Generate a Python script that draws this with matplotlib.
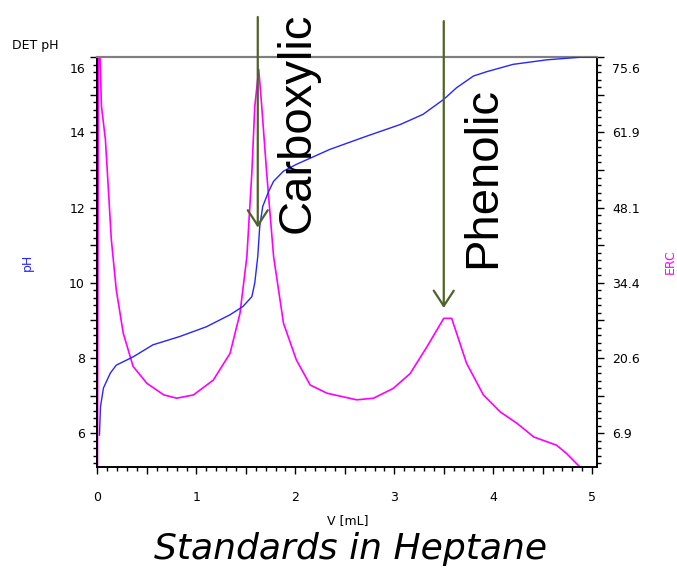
import numpy as np
import matplotlib.pyplot as plt
from matplotlib.ticker import MultipleLocator, FixedLocator, FuncFormatter
import matplotlib.transforms as mtransforms

# pH curve (blue)
v_ph = [0.02, 0.03, 0.06, 0.13, 0.19, 0.36, 0.56, 0.83, 1.10, 1.34, 1.47, 1.56,
        1.59, 1.62, 1.64, 1.67, 1.73, 1.78, 1.88, 2.01, 2.35, 2.72, 3.06, 3.29,
        3.50, 3.63, 3.80, 3.94, 4.20, 4.54, 4.88, 5.05]
ph = [5.95, 6.7, 7.2, 7.6, 7.81, 8.03, 8.35, 8.57, 8.83, 9.15, 9.37, 9.63,
      10.0, 10.7, 11.5, 12.03, 12.43, 12.7, 12.97, 13.15, 13.55, 13.9, 14.21, 14.48,
      14.88, 15.19, 15.5, 15.62, 15.81, 15.93, 16.0, 16.0]

# ERC curve (magenta)
v_erc = [0.0, 0.01, 0.025, 0.04, 0.08, 0.11, 0.14, 0.19, 0.26, 0.36, 0.50, 0.67,
         0.80, 0.97, 1.17, 1.34, 1.44, 1.51, 1.56, 1.59, 1.63, 1.66, 1.71, 1.78,
         1.88, 2.01, 2.15, 2.32, 2.62, 2.79, 2.99, 3.16, 3.33, 3.50, 3.58, 3.73,
         3.90, 4.07, 4.24, 4.41, 4.64, 4.74, 4.91]
erc = [0.5, 76.0, 76.0, 66.7, 60.6, 51.5, 42.3, 33.1, 25.2, 19.1, 16.0, 13.9,
       13.3, 13.9, 16.6, 21.5, 28.8, 39.2, 54.5, 66.7, 73.4, 66.7, 54.5, 39.2,
       27.0, 20.3, 15.7, 14.2, 13.0, 13.3, 15.1, 17.8, 22.7, 27.9, 27.9, 19.7,
       13.9, 10.8, 8.7, 6.2, 4.7, 3.2, 0.1]

x_labels = ['0', '1', '2', '3', '4', '5']
ph_labels = ['6', '8', '10', '12', '14', '16']
erc_labels = ['6.9', '20.6', '34.4', '48.1', '61.9', '75.6']

# peaks marked with arrows: (name, V, arrow tip pH)
peaks = [('Carboxylic', 1.62, 11.47), ('Phenolic', 3.50, 9.33)]

fig = plt.figure(figsize=(6.77, 5.78), dpi=100)
ax = fig.add_axes([0.144, 0.192, 0.738, 0.709])
ax2 = ax.twinx()

ph_lim = (5.1, 16.0)
def to_erc(p):
    return 6.9 + 6.875 * (np.asarray(p) - 6)

ax.plot(v_ph, ph, color='#2626ff', lw=1.0, zorder=3)
ax2.plot(v_erc, erc, color='#ff00ff', lw=1.2)
ax.set_zorder(ax2.get_zorder() + 1)
ax.patch.set_visible(False)

ax.set_xlim(0, 5.05)
ax.set_ylim(*ph_lim)
ax2.set_ylim(*to_erc(ph_lim))

# x ticks
ax.xaxis.set_major_locator(MultipleLocator(0.5))
ax.xaxis.set_minor_locator(MultipleLocator(0.1))
ax.xaxis.set_major_formatter(FuncFormatter(
    lambda v, p: x_labels[int(round(v))] if abs(v - round(v)) < 1e-6 and 0 <= round(v) < len(x_labels) else ''))

# left ticks
ax.yaxis.set_major_locator(MultipleLocator(1))
ax.yaxis.set_minor_locator(MultipleLocator(0.2))
ax.yaxis.set_major_formatter(FuncFormatter(
    lambda v, p: str(int(round(v))) if str(int(round(v))) in ph_labels and abs(v - round(v)) < 1e-6 else ''))

# right ticks
ax2.yaxis.set_major_locator(FixedLocator(to_erc(np.arange(6, 16.01, 1))))
ax2.yaxis.set_minor_locator(FixedLocator(to_erc(np.arange(5.2, 16.01, 0.2))))
ax2.set_yticklabels([erc_labels[i // 2] if i % 2 == 0 else '' for i in range(11)])

for a in (ax, ax2):
    a.tick_params(which='major', direction='out', length=5, width=1, labelsize=9, colors='black')
    a.tick_params(which='minor', direction='out', length=3, width=1)
    for s in ('left', 'right', 'bottom'):
        a.spines[s].set_linewidth(1.2)
        a.spines[s].set_color('black')
    a.spines['top'].set_color('#7f7f7f')
    a.spines['top'].set_linewidth(1.5)
ax.tick_params(axis='x', pad=12)
ax.tick_params(axis='y', pad=4)
ax2.tick_params(axis='y', pad=6)

# nudge the top labels down like the original
shift = mtransforms.ScaledTranslation(0, -0.11, fig.dpi_scale_trans)
fig.canvas.draw()
for lab in ax.get_yticklabels():
    if lab.get_text() == '16':
        lab.set_transform(lab.get_transform() + shift)
for lab in ax2.get_yticklabels():
    if lab.get_text() == '75.6':
        lab.set_transform(lab.get_transform() + shift)

ax.set_xlabel('V [mL]', fontsize=9)
ax.xaxis.set_label_coords(0.5, -0.115)
ax.set_ylabel('pH', fontsize=9, color='#2626ff')
ax.yaxis.set_label_coords(-0.127, 0.5)
ax2.set_ylabel('ERC', fontsize=9, color='#ff00ff')
ax2.yaxis.set_label_coords(1.133, 0.5)

fig.text(12 / 677, 1 - 45 / 578, 'DET pH', fontsize=9, ha='left', va='center')

# arrows and labels
arrow_col = '#4f6228'
text_pos = {'Carboxylic': (2.02, 14.25), 'Phenolic': (3.90, 12.8)}
for name, v, tip in peaks:
    top = 17.07 if name == 'Carboxylic' else 16.96
    ax.annotate('', xy=(v, tip), xytext=(v, top), annotation_clip=False,
                arrowprops=dict(arrowstyle='->,head_length=0.55,head_width=0.36',
                                color=arrow_col, lw=1.6, shrinkA=0, shrinkB=0,
                                mutation_scale=20))
    tx, ty = text_pos[name]
    ax.text(tx, ty, name, rotation=90, fontsize=34, family='Liberation Sans',
            ha='center', va='center', clip_on=False, zorder=5)

fig.text(351 / 677, 1 - 549 / 578, 'Standards in Heptane', fontsize=26,
         style='italic', family='DejaVu Sans', ha='center', va='center')

fig.savefig('out.png', dpi=100)
